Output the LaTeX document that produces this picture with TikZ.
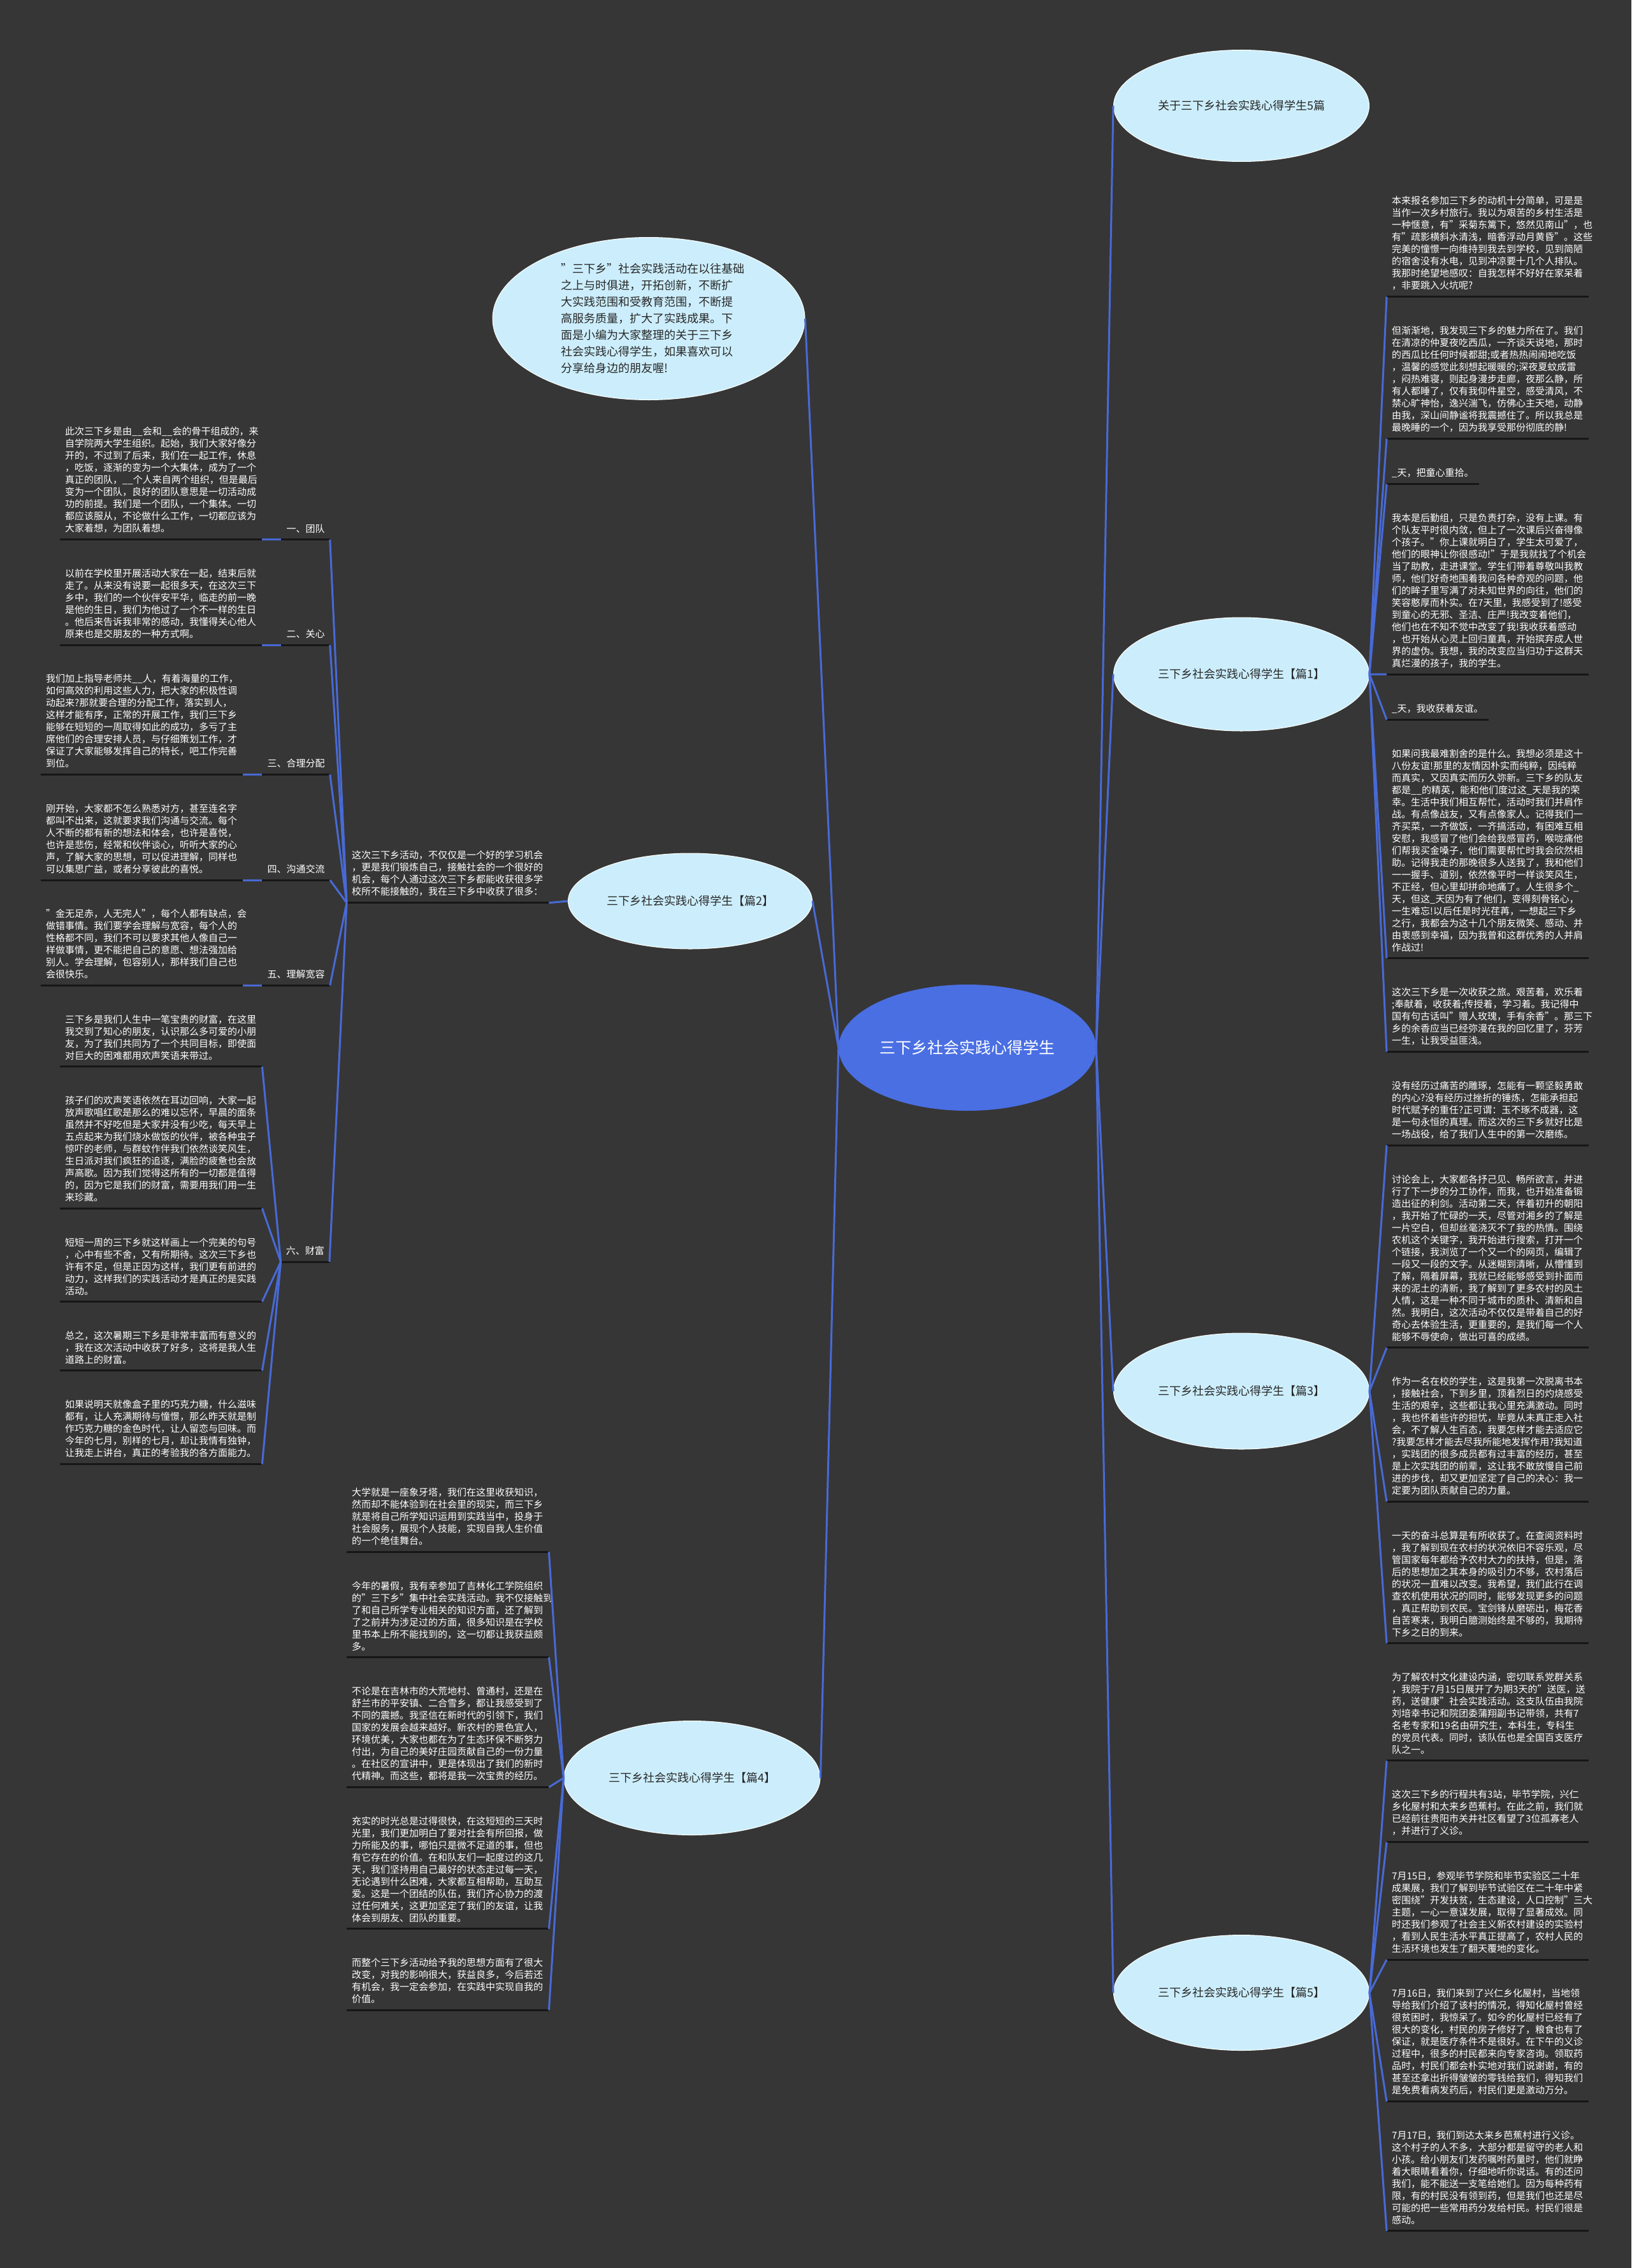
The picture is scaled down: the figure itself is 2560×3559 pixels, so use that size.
\documentclass[tikz,border=0pt]{standalone}
\usepackage{fontspec}
\setmainfont{Noto Sans CJK SC}
\usepackage{tikz}
\usetikzlibrary{shapes.geometric, positioning}
\definecolor{bgdark}{RGB}{54,54,54}
\definecolor{rootblue}{RGB}{74,111,227}
\definecolor{bubble}{RGB}{204,238,252}
\definecolor{linkblue}{RGB}{72,106,214}
\definecolor{rulek}{RGB}{22,22,22}
\definecolor{inkdark}{RGB}{40,40,40}
\tikzset{
  root/.style={ellipse, fill=rootblue, text=white, minimum width=404pt,
    minimum height=198pt, inner sep=0pt, font=\fontsize{25}{30}\selectfont},
  topic/.style={ellipse, fill=bubble, draw=white, line width=1pt, text=inkdark,
    minimum width=401pt, minimum height=178pt, inner sep=0pt,
    font=\fontsize{18}{24}\selectfont},
  leaf/.style={text=white, text width=301pt, align=left, inner xsep=8pt,
    inner ysep=10pt, font=\fontsize{15}{19}\selectfont},
  tag/.style={text=white, inner xsep=8pt, inner ysep=10pt,
    font=\fontsize{15}{19}\selectfont},
  link/.style={draw=linkblue, line width=3pt},
  uline/.style={draw=rulek, line width=3pt}
}
\begin{document}
\begin{tikzpicture}[x=1pt, y=-1pt]
  \path[use as bounding box, fill=bgdark] (0,0) rectangle (2560,3559);

  % Root and topics
  \node[root] (root) at (1518,1644) {三下乡社会实践心得学生};
  \node[topic, minimum width=490pt, minimum height=255pt, text width=276pt,
    align=left, font=\fontsize{18}{26}\selectfont] (lead) at (1018,500) {"三下乡"社会实践活动在以往基础\\
之上与时俱进，开拓创新，不断扩\\
大实践范围和受教育范围，不断提\\
高服务质量，扩大了实践成果。下\\
面是小编为大家整理的关于三下乡\\
社会实践心得学生，如果喜欢可以\\
分享给身边的朋友喔!};
  \node[topic, minimum height=175pt] (sum5) at (1948,166) {关于三下乡社会实践心得学生5篇};
  \node[topic] (p1) at (1948,1058) {三下乡社会实践心得学生【篇1】};
  \node[topic, minimum width=383pt, minimum height=150pt] (p2) at (1083,1414) {三下乡社会实践心得学生【篇2】};
  \node[topic, minimum height=182pt] (p3) at (1948,2183) {三下乡社会实践心得学生【篇3】};
  \node[topic, minimum width=402pt, minimum height=179pt] (p4) at (1086,2790) {三下乡社会实践心得学生【篇4】};
  \node[topic, minimum height=181pt] (p5) at (1948,3127) {三下乡社会实践心得学生【篇5】};

  % 篇1
  \node[leaf, anchor=north west] (r1) at (2176,298) {本来报名参加三下乡的动机十分简单，可是是\\
当作一次乡村旅行。我以为艰苦的乡村生活是\\
一种惬意，有"采菊东篱下，悠然见南山"，也\\
有"疏影横斜水清浅，暗香浮动月黄昏"。这些\\
完美的憧憬一向维持到我去到学校，见到简陋\\
的宿舍没有水电，见到冲凉要十几个人排队。\\
我那时绝望地感叹：自我怎样不好好在家呆着\\
，非要跳入火坑呢?};
  \node[leaf, below=36pt of r1.south west, anchor=north west] (r2) {但渐渐地，我发现三下乡的魅力所在了。我们\\
在清凉的仲夏夜吃西瓜，一齐谈天说地，那时\\
的西瓜比任何时候都甜;或者热热闹闹地吃饭\\
，温馨的感觉此刻想起暖暖的;深夜夏蚊成雷\\
，闷热难寝，则起身漫步走廊，夜那么静，所\\
有人都睡了，仅有我仰件星空，感受清风，不\\
禁心旷神怡，逸兴湍飞，仿佛心主天地，动静\\
由我，深山间静谧将我震撼住了。所以我总是\\
最晚睡的一个，因为我享受那份彻底的静!};
  \node[tag, below=36pt of r2.south west, anchor=north west] (r3) {\_天，把童心重拾。};
  \node[leaf, below=36pt of r3.south west, anchor=north west] (r4) {我本是后勤组，只是负责打杂，没有上课。有\\
个队友平时很内敛，但上了一次课后兴奋得像\\
个孩子。"你上课就明白了，学生太可爱了，\\
他们的眼神让你很感动!"于是我就找了个机会\\
当了助教，走进课堂。学生们带着尊敬叫我教\\
师，他们好奇地围着我问各种奇观的问题，他\\
们的眸子里写满了对未知世界的向往，他们的\\
笑容憨厚而朴实。在7天里，我感受到了!感受\\
到童心的无邪、圣洁、庄严!我改变着他们，\\
他们也在不知不觉中改变了我!我收获着感动\\
，也开始从心灵上回归童真，开始摈弃成人世\\
界的虚伪。我想，我的改变应当归功于这群天\\
真烂漫的孩子，我的学生。};
  \node[tag, below=36pt of r4.south west, anchor=north west] (r5) {\_天，我收获着友谊。};
  \node[leaf, below=36pt of r5.south west, anchor=north west] (r6) {如果问我最难割舍的是什么。我想必须是这十\\
八份友谊!那里的友情因朴实而纯粹，因纯粹\\
而真实，又因真实而历久弥新。三下乡的队友\\
都是\_\_的精英，能和他们度过这\_天是我的荣\\
幸。生活中我们相互帮忙，活动时我们并肩作\\
战。有点像战友，又有点像家人。记得我们一\\
齐买菜，一齐做饭，一齐搞活动，有困难互相\\
安慰，我感冒了他们会给我感冒药，喉咙痛他\\
们帮我买金嗓子，他们需要帮忙时我会欣然相\\
助。记得我走的那晚很多人送我了，我和他们\\
一一握手、道别，依然像平时一样谈笑风生，\\
不正经，但心里却拼命地痛了。人生很多个\_\\
天，但这\_天因为有了他们，变得刻骨铭心，\\
一生难忘!以后任是时光荏苒，一想起三下乡\\
之行，我都会为这十几个朋友微笑、感动、并\\
由衷感到幸福，因为我曾和这群优秀的人并肩\\
作战过!};
  \node[leaf, below=36pt of r6.south west, anchor=north west] (r7) {这次三下乡是一次收获之旅。艰苦着，欢乐着\\
;奉献着，收获着;传授着，学习着。我记得中\\
国有句古话叫"赠人玫瑰，手有余香"。那三下\\
乡的余香应当已经弥漫在我的回忆里了，芬芳\\
一生，让我受益匪浅。};

  % 篇3
  \node[leaf, below=36pt of r7.south west, anchor=north west] (r8) {没有经历过痛苦的雕琢，怎能有一颗坚毅勇敢\\
的内心?没有经历过挫折的锤炼，怎能承担起\\
时代赋予的重任?正可谓：玉不琢不成器，这\\
是一句永恒的真理。而这次的三下乡就好比是\\
一场战役，给了我们人生中的第一次磨练。};
  \node[leaf, below=36pt of r8.south west, anchor=north west] (r9) {讨论会上，大家都各抒己见、畅所欲言，并进\\
行了下一步的分工协作，而我，也开始准备锻\\
造出征的利剑。活动第二天，伴着初升的朝阳\\
，我开始了忙碌的一天，尽管对湘乡的了解是\\
一片空白，但却丝毫浇灭不了我的热情。围绕\\
农机这个关键字，我开始进行搜索，打开一个\\
个链接，我浏览了一个又一个的网页，编辑了\\
一段又一段的文字。从迷糊到清晰，从懵懂到\\
了解，隔着屏幕，我就已经能够感受到扑面而\\
来的泥土的清新，我了解到了更多农村的风土\\
人情，这是一种不同于城市的质朴、清新和自\\
然。我明白，这次活动不仅仅是带着自己的好\\
奇心去体验生活，更重要的，是我们每一个人\\
能够不辱使命，做出可喜的成绩。};
  \node[leaf, below=36pt of r9.south west, anchor=north west] (r10) {作为一名在校的学生，这是我第一次脱离书本\\
，接触社会，下到乡里，顶着烈日的灼烧感受\\
生活的艰辛，这些都让我心里充满激动。同时\\
，我也怀着些许的担忧，毕竟从未真正走入社\\
会，不了解人生百态，我要怎样才能去适应它\\
?我要怎样才能去尽我所能地发挥作用?我知道\\
，实践团的很多成员都有过丰富的经历，甚至\\
是上次实践团的前辈，这让我不敢放慢自己前\\
进的步伐，却又更加坚定了自己的决心：我一\\
定要为团队贡献自己的力量。};
  \node[leaf, below=36pt of r10.south west, anchor=north west] (r11) {一天的奋斗总算是有所收获了。在查阅资料时\\
，我了解到现在农村的状况依旧不容乐观，尽\\
管国家每年都给予农村大力的扶持，但是，落\\
后的思想加之其本身的吸引力不够，农村落后\\
的状况一直难以改变。我希望，我们此行在调\\
查农机使用状况的同时，能够发现更多的问题\\
，真正帮助到农民。宝剑锋从磨砺出，梅花香\\
自苦寒来，我明白臆测始终是不够的，我期待\\
下乡之日的到来。};

  % 篇5
  \node[leaf, below=36pt of r11.south west, anchor=north west] (r12) {为了解农村文化建设内涵，密切联系党群关系\\
，我院于7月15日展开了为期3天的"送医，送\\
药，送健康"社会实践活动。这支队伍由我院\\
刘培幸书记和院团委蒲翔副书记带领，共有7\\
名老专家和19名由研究生，本科生，专科生\\
的党员代表。同时，该队伍也是全国百支医疗\\
队之一。};
  \node[leaf, below=36pt of r12.south west, anchor=north west] (r13) {这次三下乡的行程共有3站，毕节学院，兴仁\\
乡化屋村和太来乡芭蕉村。在此之前，我们就\\
已经前往贵阳市关井社区看望了3位孤寡老人\\
，并进行了义诊。};
  \node[leaf, below=36pt of r13.south west, anchor=north west] (r14) {7月15日，参观毕节学院和毕节实验区二十年\\
成果展，我们了解到毕节试验区在二十年中紧\\
密围绕"开发扶贫，生态建设，人口控制"三大\\
主题，一心一意谋发展，取得了显著成效。同\\
时还我们参观了社会主义新农村建设的实验村\\
，看到人民生活水平真正提高了，农村人民的\\
生活环境也发生了翻天覆地的变化。};
  \node[leaf, below=36pt of r14.south west, anchor=north west] (r15) {7月16日，我们来到了兴仁乡化屋村，当地领\\
导给我们介绍了该村的情况，得知化屋村曾经\\
很贫困时，我惊呆了。如今的化屋村已经有了\\
很大的变化，村民的房子修好了，粮食也有了\\
保证，就是医疗条件不是很好。在下午的义诊\\
过程中，很多的村民都来向专家咨询。领取药\\
品时，村民们都会朴实地对我们说谢谢，有的\\
甚至还拿出折得皱皱的零钱给我们，得知我们\\
是免费看病发药后，村民们更是激动万分。};
  \node[leaf, below=36pt of r15.south west, anchor=north west] (r16) {7月17日，我们到达太来乡芭蕉村进行义诊。\\
这个村子的人不多，大部分都是留守的老人和\\
小孩。给小朋友们发药嘱咐药量时，他们就睁\\
着大眼睛看着你，仔细地听你说话。有的还问\\
我们，能不能送一支笔给她们。因为每种药有\\
限，有的村民没有领到药，但是我们也还是尽\\
可能的把一些常用药分发给村民。村民们很是\\
感动。};

  % 篇2
  \node[leaf, anchor=north west] (g0) at (544,1325) {这次三下乡活动，不仅仅是一个好的学习机会\\
，更是我们锻炼自己，接触社会的一个很好的\\
机会，每个人通过这次三下乡都能收获很多学\\
校所不能接触的，我在三下乡中收获了很多：};
  \node[leaf, anchor=north west] (g1) at (94,660) {此次三下乡是由\_\_会和\_\_会的骨干组成的，来\\
自学院两大学生组织。起始，我们大家好像分\\
开的，不过到了后来，我们在一起工作，休息\\
，吃饭，逐渐的变为一个大集体，成为了一个\\
真正的团队，\_\_个人来自两个组织，但是最后\\
变为一个团队，良好的团队意思是一切活动成\\
功的前提。我们是一个团队，一个集体。一切\\
都应该服从，不论做什么工作，一切都应该为\\
大家着想，为团队着想。};
  \node[leaf, below=36pt of g1.south west, anchor=north west] (g2) {以前在学校里开展活动大家在一起，结束后就\\
走了。从来没有说要一起很多天，在这次三下\\
乡中，我们的一个伙伴安平华，临走的前一晚\\
是他的生日，我们为他过了一个不一样的生日\\
。他后来告诉我非常的感动，我懂得关心他人\\
原来也是交朋友的一种方式啊。};
  \node[leaf, below left=36pt and 30pt of g2.south west, anchor=north west] (g3) {我们加上指导老师共\_\_人，有着海量的工作，\\
如何高效的利用这些人力，把大家的积极性调\\
动起来?那就要合理的分配工作，落实到人，\\
这样才能有序，正常的开展工作，我们三下乡\\
能够在短短的一周取得如此的成功，多亏了主\\
席他们的合理安排人员，与仔细策划工作，才\\
保证了大家能够发挥自己的特长，吧工作完善\\
到位。};
  \node[leaf, below=36pt of g3.south west, anchor=north west] (g4) {刚开始，大家都不怎么熟悉对方，甚至连名字\\
都叫不出来，这就要求我们沟通与交流。每个\\
人不断的都有新的想法和体会，也许是喜悦，\\
也许是悲伤，经常和伙伴谈心，听听大家的心\\
声，了解大家的思想，可以促进理解，同样也\\
可以集思广益，或者分享彼此的喜悦。};
  \node[leaf, below=36pt of g4.south west, anchor=north west] (g5) {"金无足赤，人无完人"，每个人都有缺点，会\\
做错事情。我们要学会理解与宽容，每个人的\\
性格都不同，我们不可以要求其他人像自己一\\
样做事情，更不能把自己的意愿、想法强加给\\
别人。学会理解，包容别人，那样我们自己也\\
会很快乐。};
  \node[leaf, below right=36pt and 30pt of g5.south west, anchor=north west] (w1) {三下乡是我们人生中一笔宝贵的财富，在这里\\
我交到了知心的朋友，认识那么多可爱的小朋\\
友，为了我们共同为了一个共同目标，即使面\\
对巨大的困难都用欢声笑语来带过。};
  \node[leaf, below=36pt of w1.south west, anchor=north west] (w2) {孩子们的欢声笑语依然在耳边回响，大家一起\\
放声歌唱红歌是那么的难以忘怀，早晨的面条\\
虽然并不好吃但是大家并没有少吃，每天早上\\
五点起来为我们烧水做饭的伙伴，被各种虫子\\
惊吓的老师，与群蚊作伴我们依然谈笑风生，\\
生日派对我们疯狂的追逐，满脸的疲惫也会放\\
声高歌。因为我们觉得这所有的一切都是值得\\
的，因为它是我们的财富，需要用我们用一生\\
来珍藏。};
  \node[leaf, below=36pt of w2.south west, anchor=north west] (w3) {短短一周的三下乡就这样画上一个完美的句号\\
，心中有些不舍，又有所期待。这次三下乡也\\
许有不足，但是正因为这样，我们更有前进的\\
动力，这样我们的实践活动才是真正的是实践\\
活动。};
  \node[leaf, below=36pt of w3.south west, anchor=north west] (w4) {总之，这次暑期三下乡是非常丰富而有意义的\\
，我在这次活动中收获了好多，这将是我人生\\
道路上的财富。};
  \node[leaf, below=36pt of w4.south west, anchor=north west] (w5) {如果说明天就像盒子里的巧克力糖，什么滋味\\
都有，让人充满期待与憧憬，那么昨天就是制\\
作巧克力糖的金色时代，让人留恋与回味。而\\
今年的七月，别样的七月，却让我情有独钟，\\
让我走上讲台，真正的考验我的各方面能力。};

  % 篇2 labels
  \node[tag, right=30pt of g1.south east, anchor=south west] (k1) {一、团队};
  \node[tag, right=30pt of g2.south east, anchor=south west] (k2) {二、关心};
  \node[tag, right=30pt of g3.south east, anchor=south west] (k3) {三、合理分配};
  \node[tag, right=30pt of g4.south east, anchor=south west] (k4) {四、沟通交流};
  \node[tag, right=30pt of g5.south east, anchor=south west] (k5) {五、理解宽容};
  \node[tag, anchor=south east] (k6) at (517,1980) {六、财富};

  % 篇4
  \node[leaf, anchor=north west] (q1) at (544,2325) {大学就是一座象牙塔，我们在这里收获知识，\\
然而却不能体验到在社会里的现实，而三下乡\\
就是将自己所学知识运用到实践当中，投身于\\
社会服务，展现个人技能，实现自我人生价值\\
的一个绝佳舞台。};
  \node[leaf, below=36pt of q1.south west, anchor=north west] (q2) {今年的暑假，我有幸参加了吉林化工学院组织\\
的"三下乡"集中社会实践活动。我不仅接触到\\
了和自己所学专业相关的知识方面，还了解到\\
了之前并为涉足过的方面，很多知识是在学校\\
里书本上所不能找到的，这一切都让我获益颇\\
多。};
  \node[leaf, below=36pt of q2.south west, anchor=north west] (q3) {不论是在吉林市的大荒地村、曾通村，还是在\\
舒兰市的平安镇、二合雪乡，都让我感受到了\\
不同的震撼。我坚信在新时代的引领下，我们\\
国家的发展会越来越好。新农村的景色宜人，\\
环境优美，大家也都在为了生态环保不断努力\\
付出，为自己的美好庄园贡献自己的一份力量\\
。在社区的宣讲中，更是体现出了我们的新时\\
代精神。而这些，都将是我一次宝贵的经历。};
  \node[leaf, below=36pt of q3.south west, anchor=north west] (q4) {充实的时光总是过得很快，在这短短的三天时\\
光里，我们更加明白了要对社会有所回报，做\\
力所能及的事，哪怕只是微不足道的事，但也\\
有它存在的价值。在和队友们一起度过的这几\\
天，我们坚持用自己最好的状态走过每一天，\\
无论遇到什么困难，大家都互相帮助，互助互\\
爱。这是一个团结的队伍，我们齐心协力的渡\\
过任何难关，这更加坚定了我们的友谊，让我\\
体会到朋友、团队的重要。};
  \node[leaf, below=36pt of q4.south west, anchor=north west] (q5) {而整个三下乡活动给予我的思想方面有了很大\\
改变，对我的影响很大，获益良多，今后若还\\
有机会，我一定会参加，在实践中实现自我的\\
价值。};

  % Underlines
  \foreach \n in {r1,r2,r3,r4,r5,r6,r7,r8,r9,r10,r11,r12,r13,r14,r15,r16,
      g0,g1,g2,g3,g4,g5,w1,w2,w3,w4,w5,k1,k2,k3,k4,k5,k6,q1,q2,q3,q4,q5}
    \draw[uline] (\n.south west) -- (\n.south east);

  % Connectors
  \foreach \n in {sum5,p1,p3,p5}
    \draw[link] (root.east) -- (\n.west);
  \foreach \n in {lead,p2,p4}
    \draw[link] (root.west) -- (\n.east);
  \foreach \n in {r1,r2,r3,r4,r5,r6,r7}
    \draw[link] (p1.east) -- (\n.south west);
  \foreach \n in {r8,r9,r10,r11}
    \draw[link] (p3.east) -- (\n.south west);
  \foreach \n in {r12,r13,r14,r15,r16}
    \draw[link] (p5.east) -- (\n.south west);
  \draw[link] (p2.west) -- (g0.south east);
  \foreach \n in {k1,k2,k3,k4,k5,k6}
    \draw[link] (g0.south west) -- (\n.south east);
  \foreach \i in {1,...,5}
    \draw[link] (k\i.south west) -- (g\i.south east);
  \foreach \n in {w1,w2,w3,w4,w5}
    \draw[link] (k6.south west) -- (\n.south east);
  \foreach \n in {q1,q2,q3,q4,q5}
    \draw[link] (p4.west) -- (\n.south east);
\end{tikzpicture}
\end{document}
